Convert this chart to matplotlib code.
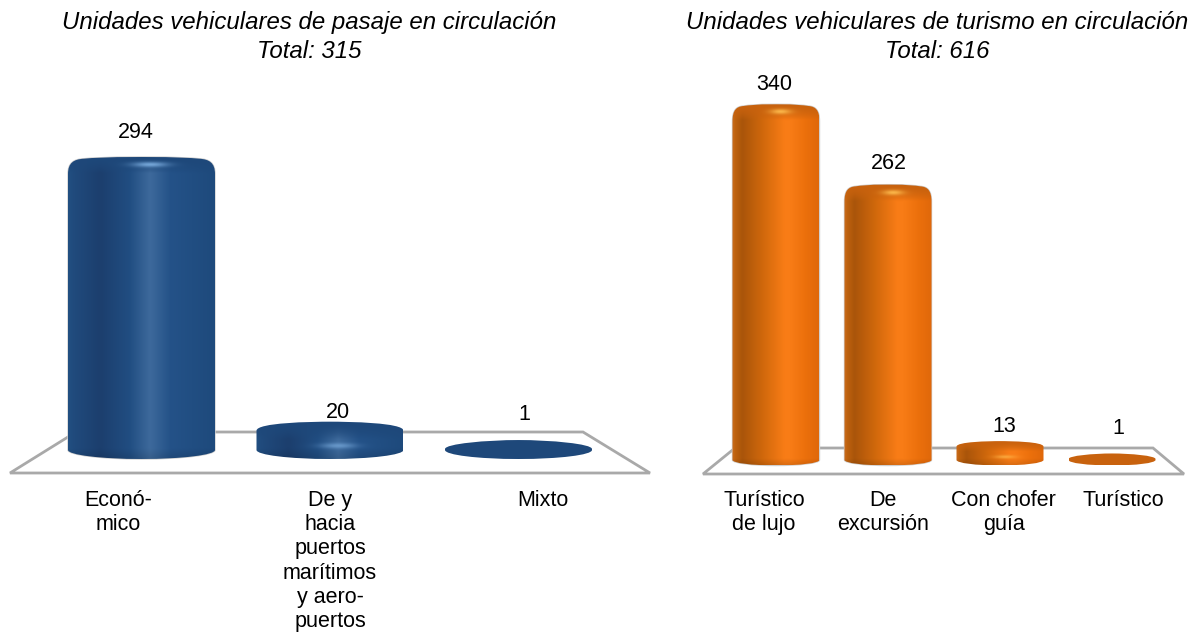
import numpy as np
import matplotlib
matplotlib.use("Agg")
import matplotlib.pyplot as plt
from matplotlib.path import Path
from matplotlib.patches import Polygon, PathPatch

plt.rcParams['font.family'] = ['Liberation Sans', 'DejaVu Sans']

# ---- data ----
left_title = "Unidades vehiculares de pasaje en circulación\nTotal: 315"
left_categories = ["Econó-\nmico", "De y\nhacia\npuertos\nmarítimos\ny aero-\npuertos", "Mixto"]
left_values = [294, 20, 1]
right_title = "Unidades vehiculares de turismo en circulación\nTotal: 616"
right_categories = ["Turístico\nde lujo", "De\nexcursión", "Con chofer\nguía", "Turístico"]
right_values = [340, 262, 13, 1]

# ---- manual label nudges (pixels) ----
left_val_nudge = [(-6, 33), (8, 18), (6, 35)]
left_cat_dx = [-23.5, 0, 24.5]
right_val_nudge = [(-2, 25), (1, 27), (4, 20), (6, 30)]
right_cat_dx = [-12, -5, 3.5, 11]

W, H = 1199, 632
DPI = 100
TXT = 15.5
TITLE = 17.3
CAT_TOP = 490

BLUE_STOPS = ([0, .05, .22, .42, .56, .70, 1],
              [(34, 80, 130), (32, 74, 124), (28, 63, 110), (33, 78, 130), (62, 106, 156),
               (36, 82, 136), (30, 74, 124)])
ORANGE_STOPS = ([0, .04, .12, .35, .6, .68, .85, 1],
                [(205, 110, 30), (190, 98, 15), (170, 85, 10), (208, 104, 12), (248, 124, 22),
                 (248, 124, 22), (236, 112, 12), (224, 104, 10)])


def cylinder(ax, xc, value, half_w_px, b_px, corner_w_px, sx, sy, stops, flat, glow):
    """Draw one shaded cylinder whose top sits at `value` on the value axis."""
    hw = half_w_px / sx
    b = b_px / sy
    x0, x1 = xc - hw, xc + hw
    h_px = value * sy
    yb, yt = 0.0, value
    verts = [(x0, yb),
             (x0, yb - .55 * b), (xc - .55 * hw, yb - b), (xc, yb - b),
             (xc + .55 * hw, yb - b), (x1, yb - .55 * b), (x1, yb)]
    if h_px > 50:      # tall column: rounded shoulder and almost flat top
        top = yt + b
        cw = corner_w_px / sx
        ch = 17 / sy
        verts += [(x1, top - ch),
                  (x1, top - .35 * ch), (x1 - .35 * cw, top - .13 * ch), (x1 - cw, top - .1 * ch),
                  (x1 - 1.6 * cw, top - .05 * ch), (xc + .5 * hw, top), (xc, top),
                  (xc - .5 * hw, top), (x0 + 1.6 * cw, top - .05 * ch), (x0 + cw, top - .1 * ch),
                  (x0 + .35 * cw, top - .13 * ch), (x0, top - .35 * ch), (x0, top - ch),
                  (x0, yb)]
        codes = [Path.MOVETO] + [Path.CURVE4] * 6 + [Path.LINETO] + [Path.CURVE4] * 12 + [Path.CLOSEPOLY]
    else:              # disc: rounded or purely elliptical top
        sq = min(1.0, h_px / 10.0)
        k_y = 0.55 + 0.35 * sq
        k_x = 0.55 + 0.2 * sq
        verts += [(x1, yt),
                  (x1, yt + k_y * b), (xc + (1 - k_x) * hw, yt + b), (xc, yt + b),
                  (xc - (1 - k_x) * hw, yt + b), (x0, yt + k_y * b), (x0, yt),
                  (x0, yb)]
        codes = [Path.MOVETO] + [Path.CURVE4] * 6 + [Path.LINETO] + [Path.CURVE4] * 6 + [Path.CLOSEPOLY]
    outline = Path(verts, codes)

    total_px = h_px + 2 * b_px
    nx, ny = int(half_w_px * 4), max(int(total_px * 2), 8)
    t = (np.arange(nx) + .5) / nx
    dy = (np.arange(ny) + .5) / ny * total_px  # pixels below the top edge
    pos, cols = stops
    cols = np.array(cols, float)
    grad = np.stack([np.interp(t, pos, cols[:, c]) for c in range(3)], axis=1)
    img = np.repeat(grad[None, :, :], ny, axis=0)
    flat_c = np.array(flat, float)
    if h_px < 3:
        img[:] = flat_c
    else:
        cap = 17.0 if h_px > 50 else 2.0 * b_px
        f = np.clip(dy / cap, 0, 1)[:, None, None] ** 2
        img = flat_c * (1 - f) + img * f
        # darker rim along the bottom
        rim = 1 - .12 * np.clip(1 - (total_px - dy) / (1.2 * b_px), 0, 1)[:, None, None]
        img = img * rim
        # specular glint
        hy = 8.5 if h_px > 50 else total_px - 1.45 * b_px
        sig_y = 2.6 if h_px > 50 else .3 * b_px
        strength = .9 if h_px > 50 else .65
        g = np.exp(-((t - .56) / .12) ** 2)[None, :] * np.exp(-((dy - hy) / sig_y) ** 2)[:, None]
        img = img + (np.array(glow, float) - img) * g[:, :, None] * strength
    if h_px > 50:
        ax.add_patch(PathPatch(outline, fc='none', ec='#cfcfcf', lw=1.0, zorder=2))
    im = ax.imshow(np.clip(img, 0, 255).astype(np.uint8), origin='upper', aspect='auto',
                   extent=(x0, x1, yb - b, yt + b), zorder=3, interpolation='bilinear')
    im.set_clip_path(outline, transform=ax.transData)


def panel(fig, title, title_xy, cats, vals, val_nudge, cat_dx, box, x_first, x_step,
          base_y, sy, half_w, b_px, corner_w, stops, flat, glow, floor_px):
    left, right, bottom, top = box
    ax = fig.add_axes([left / W, 1 - bottom / H, (right - left) / W, (bottom - top) / H])
    ax.set_axis_off()
    xlim = ((left - x_first) / x_step, (right - x_first) / x_step)
    ylim = ((base_y - bottom) / sy, (base_y - top) / sy)

    fx = [(px - left) / (right - left) for px, _ in floor_px]
    fy = [(bottom - py) / (bottom - top) for _, py in floor_px]
    ax.add_patch(Polygon(np.column_stack([fx, fy]), closed=True, transform=ax.transAxes, fc='white',
                         ec='#a9a9a9', lw=2.0, zorder=1, joinstyle='miter', clip_on=False))

    for i, v in enumerate(vals):
        cylinder(ax, i, v, half_w, b_px, corner_w, x_step, sy, stops, flat, glow)
        dx, dy = val_nudge[i]
        ax.annotate(str(v), (i, v), xytext=(dx * 72 / DPI, dy * 72 / DPI), textcoords='offset points',
                    ha='center', va='center', fontsize=TXT, color='black', zorder=5)
        ax.annotate(cats[i], (i, 0), xytext=(cat_dx[i] * 72 / DPI, -(CAT_TOP - base_y) * 72 / DPI),
                    textcoords='offset points', ha='center', va='top', fontsize=TXT, color='black',
                    linespacing=1.2, annotation_clip=False, zorder=5)
    ax.set_xlim(xlim)
    ax.set_ylim(ylim)
    fig.text(title_xy[0] / W, 1 - title_xy[1] / H, title, ha='center', va='baseline', fontsize=TITLE,
             style='italic', color='black', linespacing=1.32)
    return ax


fig = plt.figure(figsize=(W / DPI, H / DPI), dpi=DPI, facecolor='white')

panel(fig, left_title, (309, 58), left_categories, left_values, left_val_nudge, left_cat_dx,
      (10, 650, 473, 70), 141.5, 188.5, 450, 0.966, 73.5, 9, 16, BLUE_STOPS, (30, 72, 122), (125, 175, 225),
      [(10, 473), (650, 473), (583, 432), (76, 432)])

panel(fig, right_title, (937.5, 58), right_categories, right_values, right_val_nudge, right_cat_dx,
      (703, 1184, 474, 70), 776, 112, 460, 1.03, 43.5, 5.5, 11, ORANGE_STOPS, (200, 98, 14), (255, 190, 80),
      [(703, 474), (1184, 474), (1153, 448), (735, 448)])

fig.savefig('out.png', dpi=DPI, facecolor='white')
